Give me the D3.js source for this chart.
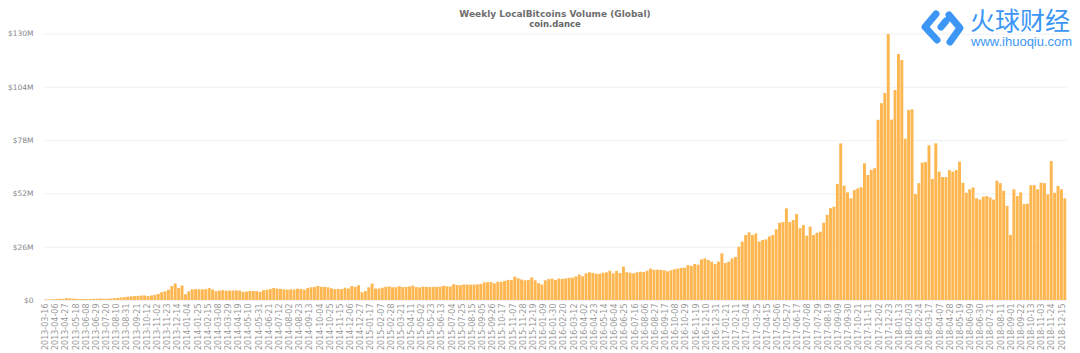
<html>

<head>
    <style>
        body { margin: 0; background: #fff; }
        svg { display: block; }
        text { font-family: "DejaVu Sans", sans-serif; }
    </style>
</head>

<body>
    <svg id="container" width="1080" height="353"></svg>
</body>
<script src="https://cdnjs.cloudflare.com/ajax/libs/d3/7.8.5/d3.min.js"></script>
<script>
    let title = "Weekly LocalBitcoins Volume (Global)"
    let subtitle = "coin.dance"
    let firstWeek = "2013-03-16"
    let labelEvery = 3 // one date label every three weeks
    let yTicks = [0, 26, 52, 78, 104, 130]

    // weekly volume in $M, ten weeks per row
    let volume = [
        0.3, 0.3, 0.4, 0.5, 0.6, 0.6, 0.9, 0.8, 0.7, 0.6,
        0.5, 0.5, 0.5, 0.5, 0.6, 0.6, 0.7, 0.6, 0.6, 0.7,
        0.9, 1.0, 1.2, 1.4, 1.6, 1.8, 1.9, 2.0, 2.2, 2.2,
        1.9, 2.2, 2.5, 3.0, 3.8, 4.2, 5.0, 6.8, 8.0, 5.8,
        7.0, 2.8, 4.2, 5.2, 5.3, 5.2, 5.2, 5.3, 5.8, 5.1,
        4.3, 4.6, 4.8, 4.5, 4.6, 4.6, 4.7, 4.6, 4.0, 4.1,
        4.4, 4.4, 4.3, 4.0, 4.8, 5.0, 5.4, 5.9, 5.6, 5.4,
        5.2, 5.1, 5.2, 5.1, 5.5, 5.4, 5.0, 5.8, 6.2, 6.3,
        6.9, 6.4, 6.4, 6.2, 5.7, 5.3, 5.4, 5.3, 6.0, 5.6,
        6.8, 6.4, 7.2, 3.8, 4.4, 6.2, 8.0, 5.6, 5.6, 6.0,
        6.4, 6.6, 6.2, 6.3, 6.7, 6.3, 6.4, 6.6, 7.0, 6.3,
        6.2, 6.5, 6.4, 6.3, 6.4, 6.4, 6.5, 6.9, 6.7, 6.6,
        7.7, 7.3, 7.2, 7.6, 7.5, 7.5, 7.5, 7.6, 7.8, 8.6,
        8.7, 8.8, 8.1, 8.9, 8.9, 9.3, 9.8, 9.8, 11.4, 10.6,
        10.0, 9.6, 9.8, 11.0, 9.6, 8.2, 7.6, 9.6, 10.2, 10.4,
        9.8, 10.5, 10.3, 10.5, 10.8, 10.9, 11.5, 12.4, 11.6, 13.0,
        13.5, 13.2, 12.8, 12.8, 13.3, 13.5, 14.3, 13.0, 14.2, 13.2,
        16.3, 13.6, 13.3, 13.0, 13.5, 13.8, 13.6, 14.3, 15.3, 14.7,
        14.8, 14.7, 14.5, 14.0, 14.5, 15.0, 15.3, 15.7, 15.7, 17.0,
        16.6, 17.6, 17.2, 19.8, 20.3, 19.5, 18.7, 17.5, 18.7, 22.8,
        18.0, 18.7, 20.3, 21.0, 26.0, 28.5, 31.7, 33.0, 31.7, 32.5,
        28.5, 29.3, 29.6, 31.0, 31.7, 34.5, 37.7, 38.0, 44.7, 38.0,
        39.0, 41.9, 35.0, 36.6, 31.4, 35.8, 31.7, 32.8, 33.3, 37.7,
        41.5, 44.8, 45.5, 56.6, 76.4, 55.8, 52.5, 49.6, 53.6, 54.4,
        55.0, 66.7, 61.0, 63.5, 64.3, 87.9, 96.0, 101.0, 129.7, 88.0,
        102.4, 120.0, 117.0, 78.7, 92.7, 93.0, 51.7, 57.0, 67.0, 67.3,
        75.5, 59.0, 76.4, 62.6, 60.0, 60.0, 63.4, 62.6, 63.4, 67.5,
        57.2, 52.3, 54.0, 54.9, 49.6, 49.0, 50.4, 50.7, 50.0, 49.0,
        58.2, 57.0, 53.3, 45.9, 31.7, 54.0, 50.7, 52.5, 46.8, 47.0,
        56.0, 56.0, 54.0, 57.2, 57.0, 51.5, 67.8, 52.3, 55.6, 54.0,
        49.6
    ]

    let svg = d3.select("#container")
    let plotLeft = 44.5, plotRight = 1066.5, plotTop = 33.5, plotBottom = 300

    let parseDay = d3.utcParse("%Y-%m-%d")
    let formatDay = d3.utcFormat("%Y-%m-%d")
    let weeks = volume.map((v, i) => formatDay(d3.utcDay.offset(parseDay(firstWeek), i * 7)))

    let x = d3.scaleBand()
        .domain(weeks)
        .range([plotLeft, plotRight])
        .paddingInner(0.14)
        .paddingOuter(0.07)

    // labels run a little tighter than the bars in the original
    let xLabels = d3.scalePoint()
        .domain(weeks)
        .range([45, 1061.5])

    let y = d3.scaleLinear()
        .domain([0, 130])
        .range([plotBottom, plotTop])

    // grid lines come from the left axis tick size
    let yAxis = d3.axisLeft(y)
        .tickValues(yTicks)
        .tickSize(-(plotRight - plotLeft))
        .tickPadding(11)
        .tickFormat(d => d == 0 ? "$0" : "$" + d + "M")

    let yG = svg.append("g")
        .attr("transform", `translate(${plotLeft},0)`)
        .call(yAxis)
    yG.select(".domain").remove()
    yG.selectAll("line").attr("stroke", "#f0f0f0")
    yG.selectAll("text")
        .attr("fill", "#888")
        .style("font-size", "7.5px")

    svg.append("g")
        .selectAll("rect")
        .data(volume)
        .enter()
        .append("rect")
        .attr("x", (d, i) => x(weeks[i]))
        .attr("width", x.bandwidth())
        .attr("y", d => y(d))
        .attr("height", d => y(0) - y(d))
        .attr("fill", "#fdb650")

    let xAxis = d3.axisBottom(xLabels)
        .tickValues(weeks.filter((d, i) => i % labelEvery == 0))
        .tickSize(0)

    let xG = svg.append("g")
        .attr("transform", `translate(0,${plotBottom})`)
        .call(xAxis)
    xG.select(".domain").remove()
    xG.selectAll("text")
        .attr("fill", "#999")
        .style("font-size", "8px")
        .attr("text-anchor", "end")
        .attr("dy", "0.32em")
        .attr("y", 0)
        .attr("transform", "translate(0,3.5) rotate(-90)")

    svg.append("text")
        .attr("x", 555)
        .attr("y", 16.5)
        .attr("text-anchor", "middle")
        .attr("fill", "#6e6e6e")
        .style("font-size", "9px")
        .style("font-weight", "bold")
        .text(title)

    svg.append("text")
        .attr("x", 555)
        .attr("y", 27)
        .attr("text-anchor", "middle")
        .attr("fill", "#666")
        .style("font-size", "8.5px")
        .style("font-weight", "bold")
        .text(subtitle)

    // watermark in the top right corner
    let mark = svg.append("g")
    mark.append("path")
        .attr("d", "M936,14 L925,27 L937,40 M950,42 L960,28 L949,15 M946,21 L941,27")
        .attr("fill", "none")
        .attr("stroke", "#3b96f5")
        .attr("stroke-width", 7)
        .attr("stroke-linecap", "round")
        .attr("stroke-linejoin", "round")
    mark.append("text")
        .attr("x", 970)
        .attr("y", 30)
        .attr("fill", "#3b96f5")
        .style("font-family", "'Noto Sans CJK SC'")
        .style("font-size", "25px")
        .text("火球财经")
    mark.append("text")
        .attr("x", 971)
        .attr("y", 45.5)
        .attr("fill", "#3b96f5")
        .style("font-family", "'Liberation Sans'")
        .style("font-size", "13px")
        .text("www.ihuoqiu.com")
</script>

</html>
